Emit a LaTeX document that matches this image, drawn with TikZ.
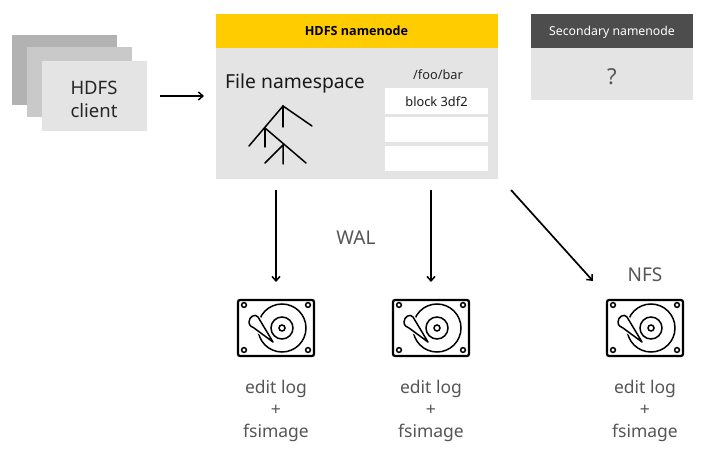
\documentclass[tikz,border=0pt]{standalone}
\usepackage{fontspec}
\setmainfont{Noto Sans}
\newfontfamily\boldface{Open Sans}
\usetikzlibrary{arrows.meta}
\definecolor{panel}{HTML}{E4E4E4}
\definecolor{ylw}{HTML}{FFCC00}
\definecolor{darkhead}{HTML}{4D4D4D}
\definecolor{gtext}{HTML}{555555}
\tikzset{
  x=1pt,y=-1pt,
  flow/.style={draw=black,line width=1.7pt,-{Straight Barb[length=4.5pt,width=8pt,line width=1.5pt]}},
  treeline/.style={draw=black,line width=1.5pt,line cap=round},
  lbl/.style={align=center,inner sep=0pt,text=gtext,font=\fontsize{17.5}{22}\selectfont},
  smalltxt/.style={inner sep=0pt,font=\fontsize{12.8}{14}\selectfont,text=black!85},
  disk/.pic={
    \draw[line width=2.2pt,rounded corners=2pt] (-38,-28) rectangle (38,28);
    \foreach \a/\b in {-32/-23,32/-23,-32/22,32/22}{\draw[line width=1.5pt] (\a,\b) circle (2.4);}
    \draw[line width=1.5pt] (6,0) circle (24);
    \draw[line width=1.5pt] (6,0) circle (11);
    \draw[line width=1.5pt] (6,0) circle (3);
    \draw[white,line width=4pt,fill=white] (-3,14) -- (-18,-11) .. controls (-21,-15) and (-27,-11) .. (-27,-6) .. controls (-27,-2) and (-24,-1) .. (-22,0) -- cycle;
    \draw[line width=1.5pt,line join=round,fill=white] (-3,14) -- (-18,-11) .. controls (-21,-15) and (-27,-11) .. (-27,-6) .. controls (-27,-2) and (-24,-1) .. (-22,0) -- cycle;
  }
}
\begin{document}
\begin{tikzpicture}
\useasboundingbox (0,0) rectangle (705,457);
% client stack
\fill[black!30] (12,35) rectangle (117,105);
\fill[black!21] (27,47) rectangle (132,117);
\fill[panel] (42,61) rectangle (147,131);
\node[align=center,inner sep=0pt,font=\fontsize{18.5}{23}\selectfont,text=black!85] (client) at (94,99.5) {HDFS\\client};
% namenode
\fill[panel] (216,14) rectangle (498,179);
\fill[ylw] (216,14) rectangle (498,48);
\node[inner sep=0pt,font=\boldface\fontsize{12.6}{14}\selectfont\bfseries] (nn) at (356.5,31) {HDFS namenode};
\node[inner sep=0pt,anchor=west,font=\fontsize{19.3}{22}\selectfont,text=black!90] (fns) at (225,83) {File namespace};
\node[smalltxt] (path) at (438,75) {/foo/bar};
\fill[white] (385,88) rectangle (488,114);
\fill[white] (385,117) rectangle (488,142);
\fill[white] (385,146) rectangle (488,171);
\node[smalltxt,text=black!90] (blk) at (436.5,101.5) {block 3df2};
% tree
\draw[treeline] (249,146) -- (283,106) -- (312,126);
\draw[treeline] (283,106) -- (283,127);
\draw[treeline] (265,128) -- (265,147);
\draw[treeline] (265,128) -- (306,163);
\draw[treeline] (265,163) -- (283,145) -- (283,164);
% secondary
\fill[panel] (531,14) rectangle (693,100);
\fill[darkhead] (531,14) rectangle (693,48);
\node[inner sep=0pt,font=\fontsize{12.25}{14}\selectfont,text=white] (sn) at (612,32) {Secondary namenode};
\node[inner sep=0pt,font=\fontsize{22}{24}\selectfont,text=gtext] (q) at (612,77) {?};
% connectors
\coordinate (c1) at (160,96); \coordinate (n1) at (204,96);
\draw[flow] (c1) -- (n1);
\coordinate (a1) at (276,190); \coordinate (b1) at (276,282);
\coordinate (a2) at (431,190); \coordinate (b2) at (431,282);
\coordinate (a3) at (511,190); \coordinate (b3) at (593,281);
\draw[flow] (a1) -- (b1);
\draw[flow] (a2) -- (b2);
\draw[flow] (a3) -- (b3);
% disks
\pic at (276,328) {disk};
\pic at (431,328) {disk};
\pic at (645,328) {disk};
\node[lbl,font=\fontsize{19}{22}\selectfont] (wal) at (356,238) {WAL};
\node[lbl,font=\fontsize{19}{22}\selectfont] (nfs) at (645,275) {NFS};
\node[lbl] (l1) at (276,410.5) {edit log\\+\\fsimage};
\node[lbl] (l2) at (431,410.5) {edit log\\+\\fsimage};
\node[lbl] (l3) at (645,410.5) {edit log\\+\\fsimage};
\end{tikzpicture}
\end{document}
